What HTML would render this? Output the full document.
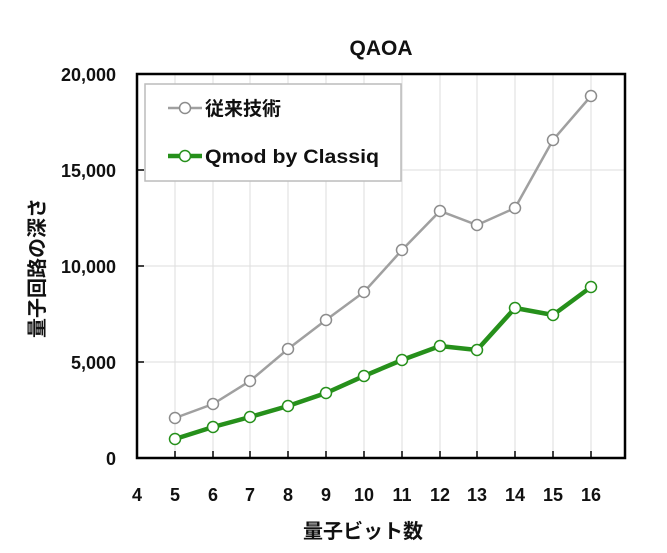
<!DOCTYPE html>
<html><head><meta charset="utf-8"><style>
body{margin:0;background:#fff;}
svg text{font-family:"Liberation Sans","Noto Sans CJK JP",sans-serif;fill:#111;}
</style></head><body>
<svg width="667" height="548" xmlns="http://www.w3.org/2000/svg">
<rect width="667" height="548" fill="#fff"/>
<g stroke="#dedede" stroke-width="1">
<line x1="175" y1="74" x2="175" y2="458"/><line x1="213" y1="74" x2="213" y2="458"/><line x1="250" y1="74" x2="250" y2="458"/><line x1="288" y1="74" x2="288" y2="458"/><line x1="326" y1="74" x2="326" y2="458"/><line x1="364" y1="74" x2="364" y2="458"/><line x1="402" y1="74" x2="402" y2="458"/><line x1="440" y1="74" x2="440" y2="458"/><line x1="477" y1="74" x2="477" y2="458"/><line x1="515" y1="74" x2="515" y2="458"/><line x1="553" y1="74" x2="553" y2="458"/><line x1="591" y1="74" x2="591" y2="458"/>
<line x1="137" y1="170" x2="625" y2="170"/><line x1="137" y1="266" x2="625" y2="266"/><line x1="137" y1="362" x2="625" y2="362"/>
</g>
<g stroke="#000" stroke-width="1.5">
<line x1="175" y1="458" x2="175" y2="451"/><line x1="213" y1="458" x2="213" y2="451"/><line x1="250" y1="458" x2="250" y2="451"/><line x1="288" y1="458" x2="288" y2="451"/><line x1="326" y1="458" x2="326" y2="451"/><line x1="364" y1="458" x2="364" y2="451"/><line x1="402" y1="458" x2="402" y2="451"/><line x1="440" y1="458" x2="440" y2="451"/><line x1="477" y1="458" x2="477" y2="451"/><line x1="515" y1="458" x2="515" y2="451"/><line x1="553" y1="458" x2="553" y2="451"/><line x1="591" y1="458" x2="591" y2="451"/>
<line x1="137" y1="170" x2="144" y2="170"/><line x1="137" y1="266" x2="144" y2="266"/><line x1="137" y1="362" x2="144" y2="362"/>
</g>
<rect x="137" y="74" width="488" height="384" fill="none" stroke="#000" stroke-width="2.5"/>
<polyline fill="none" stroke="#a0a0a0" stroke-width="2.5" points="175,418 213,404 250,381 288,349 326,320 364,292 402,250 440,211 477,225 515,208 553,140 591,96"/>
<g fill="#fff" stroke="#8c8c8c" stroke-width="1.5">
<circle cx="175" cy="418" r="5.5"/><circle cx="213" cy="404" r="5.5"/><circle cx="250" cy="381" r="5.5"/><circle cx="288" cy="349" r="5.5"/><circle cx="326" cy="320" r="5.5"/><circle cx="364" cy="292" r="5.5"/><circle cx="402" cy="250" r="5.5"/><circle cx="440" cy="211" r="5.5"/><circle cx="477" cy="225" r="5.5"/><circle cx="515" cy="208" r="5.5"/><circle cx="553" cy="140" r="5.5"/><circle cx="591" cy="96" r="5.5"/>
</g>
<polyline fill="none" stroke="#26901b" stroke-width="4.5" points="175,439 213,427 250,417 288,406 326,393 364,376 402,360 440,346 477,350 515,308 553,315 591,287"/>
<g fill="#fff" stroke="#26901b" stroke-width="1.5">
<circle cx="175" cy="439" r="5.5"/><circle cx="213" cy="427" r="5.5"/><circle cx="250" cy="417" r="5.5"/><circle cx="288" cy="406" r="5.5"/><circle cx="326" cy="393" r="5.5"/><circle cx="364" cy="376" r="5.5"/><circle cx="402" cy="360" r="5.5"/><circle cx="440" cy="346" r="5.5"/><circle cx="477" cy="350" r="5.5"/><circle cx="515" cy="308" r="5.5"/><circle cx="553" cy="315" r="5.5"/><circle cx="591" cy="287" r="5.5"/>
</g>
<rect x="145" y="84" width="256" height="97" fill="#fff" stroke="#bcbcbc" stroke-width="1.5"/>
<line x1="168" y1="108" x2="202" y2="108" stroke="#a0a0a0" stroke-width="2.5"/>
<circle cx="185" cy="108" r="5.5" fill="#fff" stroke="#8c8c8c" stroke-width="1.5"/>
<text x="205" y="115" font-size="19" font-weight="bold">従来技術</text>
<line x1="168" y1="156" x2="202" y2="156" stroke="#26901b" stroke-width="4.5"/>
<circle cx="185" cy="156" r="5.5" fill="#fff" stroke="#26901b" stroke-width="1.5"/>
<text x="205" y="163" font-size="19" font-weight="bold" textLength="174" lengthAdjust="spacingAndGlyphs">Qmod by Classiq</text>
<text x="381" y="55" font-size="21" font-weight="bold" text-anchor="middle">QAOA</text>
<g font-size="18" font-weight="bold" text-anchor="end">
<text x="116" y="81">20,000</text><text x="116" y="177">15,000</text><text x="116" y="273">10,000</text><text x="116" y="369">5,000</text><text x="116" y="465">0</text>
</g>
<g font-size="18" font-weight="bold" text-anchor="middle">
<text x="137" y="501">4</text><text x="175" y="501">5</text><text x="213" y="501">6</text><text x="250" y="501">7</text><text x="288" y="501">8</text><text x="326" y="501">9</text><text x="364" y="501">10</text><text x="402" y="501">11</text><text x="440" y="501">12</text><text x="477" y="501">13</text><text x="515" y="501">14</text><text x="553" y="501">15</text><text x="591" y="501">16</text>
</g>
<text x="363" y="538" font-size="20" font-weight="bold" text-anchor="middle">量子ビット数</text>
<text transform="translate(44,268) rotate(-90)" font-size="20" font-weight="bold" text-anchor="middle">量子回路の深さ</text>
</svg>
</body></html>
